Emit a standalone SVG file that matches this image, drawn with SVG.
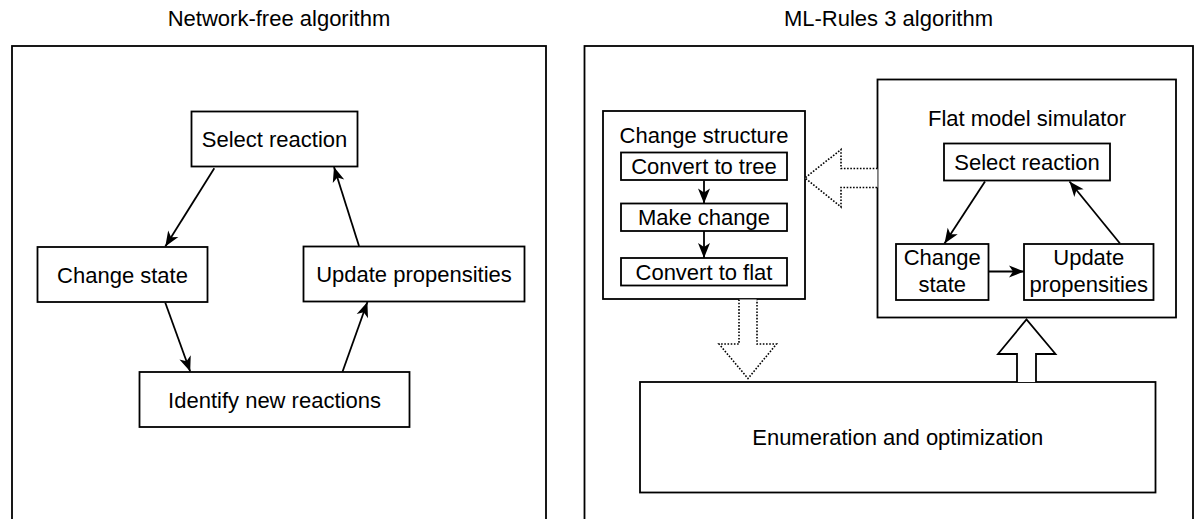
<svg xmlns="http://www.w3.org/2000/svg" width="1198" height="519" viewBox="0 0 1198 519">
<style>
  .box { fill: #fff; stroke: #000; stroke-width: 1.8; }
  .t { font-family: "Liberation Sans", Arial, sans-serif; font-size: 22px; fill: #000; text-anchor: middle; }
  .edge { fill: none; stroke: #000; stroke-width: 1.8; marker-end: url(#ah); }
  .dot { fill: #fff; stroke: #000; stroke-width: 1.6; stroke-dasharray: 1.6 1.6; }
  .fat { fill: #fff; stroke: #000; stroke-width: 1.8; }
</style>
<defs>
  <marker id="ah" markerWidth="17" markerHeight="14" refX="16" refY="7" orient="auto" markerUnits="userSpaceOnUse">
    <path d="M1,1 L16,7 L1,13 L5,7 z" fill="#000"/>
  </marker>
</defs>
<rect width="1198" height="519" fill="#fff"/>

<g id="panel-left">
  <text class="t" x="279" y="26">Network-free algorithm</text>
  <rect class="box" x="12" y="46" width="534" height="490"/>
</g>
<g id="panel-right">
  <text class="t" x="888.5" y="26">ML-Rules 3 algorithm</text>
  <rect class="box" x="584.5" y="46" width="608.5" height="490"/>
</g>

<g id="nf-select">
  <rect class="box" x="191.5" y="111.5" width="166" height="55"/>
  <text class="t" x="274.5" y="147">Select reaction</text>
</g>
<g id="nf-change">
  <rect class="box" x="37.5" y="247" width="170" height="55"/>
  <text class="t" x="122.5" y="282.5">Change state</text>
</g>
<g id="nf-update">
  <rect class="box" x="303.5" y="246.5" width="221" height="55"/>
  <text class="t" x="414" y="282">Update propensities</text>
</g>
<g id="nf-identify">
  <rect class="box" x="139.5" y="372" width="270" height="55"/>
  <text class="t" x="274.5" y="407.5">Identify new reactions</text>
</g>

<g id="change-structure">
  <rect class="box" x="603" y="111" width="202" height="188"/>
  <text class="t" x="704" y="143">Change structure</text>
</g>
<g id="cs-tree">
  <rect class="box" x="621" y="152.5" width="166" height="27.5"/>
  <text class="t" x="704" y="174">Convert to tree</text>
</g>
<g id="cs-make">
  <rect class="box" x="621" y="203.5" width="166" height="27.5"/>
  <text class="t" x="704" y="225">Make change</text>
</g>
<g id="cs-flat">
  <rect class="box" x="621" y="258" width="166" height="27.5"/>
  <text class="t" x="704" y="279.5">Convert to flat</text>
</g>

<g id="flat-sim">
  <rect class="box" x="877.5" y="79.5" width="298.5" height="238"/>
  <text class="t" x="1027" y="126">Flat model simulator</text>
</g>
<g id="fs-select">
  <rect class="box" x="944" y="143.5" width="166" height="37"/>
  <text class="t" x="1027" y="170">Select reaction</text>
</g>
<g id="fs-change">
  <rect class="box" x="896" y="244" width="92.5" height="56"/>
  <text class="t" x="942.25" y="265">Change</text>
  <text class="t" x="942.25" y="291.5">state</text>
</g>
<g id="fs-update">
  <rect class="box" x="1024" y="244" width="129.5" height="56"/>
  <text class="t" x="1088.75" y="265">Update</text>
  <text class="t" x="1088.75" y="291.5">propensities</text>
</g>

<g id="enumeration">
  <rect class="box" x="640" y="382" width="515.5" height="110.5"/>
  <text class="t" x="897.75" y="445">Enumeration and optimization</text>
</g>

<g id="connectors">
  <line class="edge" x1="214.3" y1="168.3" x2="165.3" y2="246.5"/>
  <line class="edge" x1="165.3" y1="302.7" x2="190.2" y2="371.5"/>
  <line class="edge" x1="342.5" y1="371.7" x2="367.4" y2="302"/>
  <line class="edge" x1="359" y1="246" x2="334" y2="167"/>

  <line class="edge" x1="704" y1="180.5" x2="704" y2="203.5"/>
  <line class="edge" x1="704" y1="231" x2="704" y2="258"/>

  <line class="edge" x1="985" y1="181.5" x2="944.5" y2="243.5"/>
  <line class="edge" x1="1120" y1="243.5" x2="1069.5" y2="181.5"/>
  <line class="edge" x1="988.5" y1="271.5" x2="1024" y2="271.5"/>

  <path class="dot" d="M877.5,168.5 H841 V149.5 L805,178 L841,207 V187.5 H877.5"/>
  <path class="dot" d="M739,299.5 V344 H719 L748,378.5 L776.5,344 H757 V299.5"/>
  <path class="fat" d="M1017,382 V354 H998 L1026.5,319.5 L1055.5,354 H1036 V382"/>
</g>
</svg>
